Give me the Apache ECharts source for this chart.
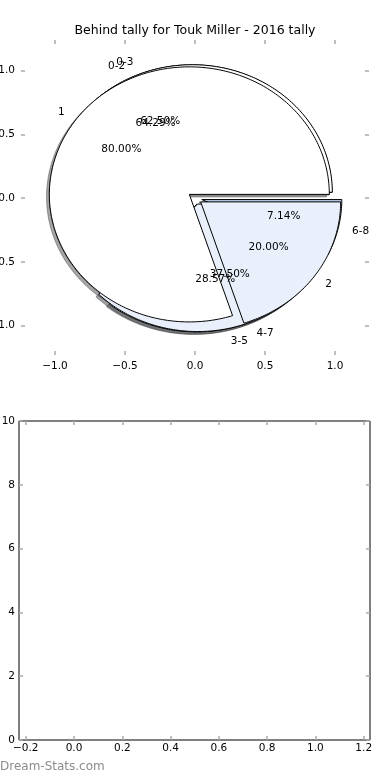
<!DOCTYPE html>
<html><head><meta charset="utf-8">
<script src="https://cdn.jsdelivr.net/npm/echarts@6/dist/echarts.min.js"></script>
<style>html,body{margin:0;padding:0;background:#fff}#c{width:390px;height:780px}</style>
</head><body><div id="c"></div>
<script>
// ---- data ----
const titleText = 'Behind tally for Touk Miller - 2016 tally';
const pieALabels = ['1', '2'];
const pieAValues = [4, 1];
const pieBLabels = ['0-2', '3-5', '6-8'];
const pieBValues = [9, 4, 1];
const pieCLabels = ['0-3', '4-7'];
const pieCValues = [5, 3];
const pieTicks = [-1, -0.5, 0, 0.5, 1];
const lowerXTicks = [-0.2, 0, 0.2, 0.4, 0.6, 0.8, 1.0, 1.2];
const lowerYTicks = [0, 2, 4, 6, 8, 10];
const watermark = 'Dream-Stats.com';

// ---- styling / geometry constants ----
const wedgeColors = ['#ffffff', '#e9f0fc', '#b8cbe8'];
const EXPLODE = 0.05, SHADOW = 0.02, LABEL_DIST = 1.1, PCT_DIST = 0.6;
const FONT = '"DejaVu Sans", sans-serif';

// draw order (first = bottom)
const pies = [
  { labels: pieBLabels, values: pieBValues },
  { labels: pieCLabels, values: pieCValues },
  { labels: pieALabels, values: pieAValues }
];

function buildWedges(p) {
  const total = p.values.reduce((a, b) => a + b, 0);
  let acc = 0;
  return p.values.map((v, i) => {
    const t1 = acc / total * 360; acc += v; const t2 = acc / total * 360;
    const mid = (t1 + t2) / 2 * Math.PI / 180;
    return { t1, t2, frac: v / total, label: p.labels[i],
      color: wedgeColors[i % wedgeColors.length],
      cx: EXPLODE * Math.cos(mid), cy: EXPLODE * Math.sin(mid), mid };
  });
}
const allWedges = [];
pies.forEach(p => buildWedges(p).forEach(w => allWedges.push(w)));

function wedgePts(api, w, dx, dy) {
  const pts = [api.coord([w.cx + dx, w.cy + dy])];
  const n = Math.max(2, Math.ceil(w.t2 - w.t1));
  for (let k = 0; k <= n; k++) {
    const a = (w.t1 + (w.t2 - w.t1) * k / n) * Math.PI / 180;
    pts.push(api.coord([w.cx + dx + Math.cos(a), w.cy + dy + Math.sin(a)]));
  }
  return pts;
}
function shade(hex) {
  const r = parseInt(hex.slice(1, 3), 16), g = parseInt(hex.slice(3, 5), 16), b = parseInt(hex.slice(5, 7), 16);
  return 'rgba(' + Math.round(r * 0.3) + ',' + Math.round(g * 0.3) + ',' + Math.round(b * 0.3) + ',0.5)';
}
const fmt1 = v => (v < 0 ? '\u2212' : '') + Math.abs(v).toFixed(1);
const tickStyle = { color: '#aaaaaa', width: 1.5 };
const noLine = { show: false, onZero: false };
const wedgeData = allWedges.map((w, i) => [i]);

const chart = echarts.init(document.getElementById('c'), null, { renderer: 'canvas' });
chart.setOption({
  animation: false,
  backgroundColor: '#ffffff',
  title: { text: titleText, left: 'center', top: 19,
    textStyle: { fontFamily: FONT, fontSize: 12.5, fontWeight: 'normal', color: '#000' } },
  grid: [
    { left: 21, top: 40, width: 348, height: 315, show: false, containLabel: false, outerBoundsMode: 'none' },
    { left: 19, top: 421, width: 351, height: 319, show: true, borderColor: '#000', borderWidth: 1,
      backgroundColor: 'transparent', containLabel: false, outerBoundsMode: 'none' }
  ],
  xAxis: [
    { gridIndex: 0, type: 'value', min: -1.243, max: 1.243, position: 'bottom',
      axisLine: noLine, splitLine: { show: false },
      axisTick: { inside: true, length: 4, customValues: pieTicks, lineStyle: tickStyle },
      axisLabel: { customValues: pieTicks, formatter: fmt1, color: '#000', fontSize: 10.5, fontFamily: FONT, margin: 6 } },
    { gridIndex: 0, type: 'value', min: -1.243, max: 1.243, position: 'top',
      axisLine: noLine, splitLine: { show: false },
      axisTick: { inside: true, length: 4, customValues: pieTicks, lineStyle: tickStyle },
      axisLabel: { show: false } },
    { gridIndex: 1, type: 'value', min: -0.228, max: 1.226, position: 'bottom',
      axisLine: noLine, splitLine: { show: false },
      axisTick: { inside: true, length: 4, customValues: lowerXTicks, lineStyle: tickStyle },
      axisLabel: { customValues: lowerXTicks, formatter: fmt1, color: '#000', fontSize: 10.5, fontFamily: FONT, margin: 3 } },
    { gridIndex: 1, type: 'value', min: -0.228, max: 1.226, position: 'top',
      axisLine: noLine, splitLine: { show: false },
      axisTick: { inside: true, length: 4, customValues: lowerXTicks, lineStyle: tickStyle },
      axisLabel: { show: false } }
  ],
  yAxis: [
    { gridIndex: 0, type: 'value', min: -1.23, max: 1.24, position: 'left',
      axisLine: noLine, splitLine: { show: false },
      axisTick: { inside: true, length: 4, customValues: pieTicks, lineStyle: tickStyle },
      axisLabel: { customValues: pieTicks, formatter: fmt1, color: '#000', fontSize: 10.5, fontFamily: FONT, margin: 6 } },
    { gridIndex: 0, type: 'value', min: -1.23, max: 1.24, position: 'right',
      axisLine: noLine, splitLine: { show: false },
      axisTick: { inside: true, length: 4, customValues: pieTicks, lineStyle: tickStyle },
      axisLabel: { show: false } },
    { gridIndex: 1, type: 'value', min: 0, max: 10, position: 'left',
      axisLine: noLine, splitLine: { show: false },
      axisTick: { inside: true, length: 4, customValues: lowerYTicks, lineStyle: tickStyle },
      axisLabel: { customValues: lowerYTicks, color: '#000', fontSize: 10.5, fontFamily: FONT, margin: 4 } },
    { gridIndex: 1, type: 'value', min: 0, max: 10, position: 'right',
      axisLine: noLine, splitLine: { show: false },
      axisTick: { inside: true, length: 4, customValues: lowerYTicks, lineStyle: tickStyle },
      axisLabel: { show: false } }
  ],
  graphic: [{ type: 'text', left: 0, top: 761,
    style: { text: watermark, fill: '#8c8c8c', font: '12px ' + FONT } }],
  series: [
    { type: 'custom', name: 'shadows', xAxisIndex: 0, yAxisIndex: 0, z: 1, silent: true, clip: false,
      data: wedgeData,
      renderItem: (params, api) => {
        const w = allWedges[params.dataIndex];
        return { type: 'polygon', z2: params.dataIndex,
          shape: { points: wedgePts(api, w, -SHADOW, -SHADOW) },
          style: { fill: shade(w.color), stroke: shade(w.color), lineWidth: 1 } };
      } },
    { type: 'custom', name: 'wedges', xAxisIndex: 0, yAxisIndex: 0, z: 2, silent: true, clip: false,
      data: wedgeData,
      renderItem: (params, api) => {
        const w = allWedges[params.dataIndex];
        return { type: 'polygon', z2: params.dataIndex,
          shape: { points: wedgePts(api, w, 0, 0) },
          style: { fill: w.color, stroke: '#000', lineWidth: 1, lineJoin: 'miter' } };
      } },
    { type: 'custom', name: 'labels', xAxisIndex: 0, yAxisIndex: 0, z: 5, silent: true, clip: false,
      data: wedgeData,
      renderItem: (params, api) => {
        const w = allWedges[params.dataIndex];
        const c = Math.cos(w.mid), s = Math.sin(w.mid);
        const lx = w.cx + LABEL_DIST * c, ly = w.cy + LABEL_DIST * s;
        const px = w.cx + PCT_DIST * c, py = w.cy + PCT_DIST * s;
        const lp = api.coord([lx, ly]), pp = api.coord([px, py]);
        const al = lx > 0 ? 'left' : 'right';
        return { type: 'group', children: [
          { type: 'text', x: lp[0], y: lp[1],
            style: { text: w.label, fill: '#000', font: '10.5px ' + FONT, textAlign: al, textVerticalAlign: 'middle', align: al, verticalAlign: 'middle' } },
          { type: 'text', x: pp[0], y: pp[1],
            style: { text: (w.frac * 100).toFixed(2) + '%', fill: '#000', font: '10.5px ' + FONT, textAlign: 'center', textVerticalAlign: 'middle', align: 'center', verticalAlign: 'middle' } }
        ] };
      } }
  ]
});
</script></body></html>
